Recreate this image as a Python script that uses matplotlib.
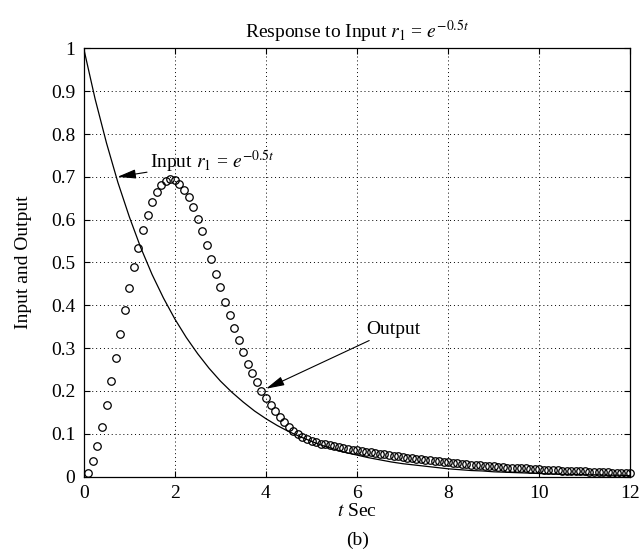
import numpy as np
import matplotlib
matplotlib.use("Agg")
import matplotlib.pyplot as plt

plt.rcParams['font.family'] = ['Liberation Serif', 'DejaVu Serif']
plt.rcParams['mathtext.fontset'] = 'stix'

# input r1 (every 0.25 s)
t_in = np.arange(0, 12.01, 0.25)
r_in = [1.000, 0.882, 0.779, 0.687, 0.607, 0.535, 0.472, 0.417, 0.368, 0.325,
        0.287, 0.253, 0.223, 0.197, 0.174, 0.153, 0.135, 0.119, 0.105, 0.093,
        0.082, 0.072, 0.064, 0.056, 0.050, 0.044, 0.039, 0.034, 0.030, 0.027,
        0.024, 0.021, 0.018, 0.016, 0.014, 0.013, 0.011, 0.010, 0.009, 0.008,
        0.007, 0.006, 0.005, 0.005, 0.004, 0.004, 0.003, 0.003, 0.002]

# output (every 0.1 s, starting at 0.1)
t_out = np.arange(1, 121) / 10
y_out = [0.008, 0.037, 0.071, 0.115, 0.167, 0.222, 0.278, 0.333, 0.388, 0.441,
         0.490, 0.535, 0.576, 0.612, 0.642, 0.665, 0.681, 0.691, 0.694, 0.692,
         0.683, 0.669, 0.652, 0.629, 0.602, 0.573, 0.541, 0.507, 0.474, 0.442,
         0.408, 0.377, 0.346, 0.318, 0.290, 0.264, 0.242, 0.220, 0.200, 0.184,
         0.168, 0.153, 0.140, 0.127, 0.116, 0.107, 0.099, 0.092, 0.087, 0.083,
         0.080, 0.077, 0.075, 0.073, 0.071, 0.069, 0.067, 0.065, 0.063, 0.062,
         0.060, 0.058, 0.057, 0.055, 0.053, 0.052, 0.050, 0.049, 0.047, 0.046,
         0.044, 0.043, 0.042, 0.040, 0.039, 0.038, 0.037, 0.036, 0.034, 0.033,
         0.032, 0.031, 0.030, 0.029, 0.028, 0.027, 0.026, 0.025, 0.024, 0.024,
         0.023, 0.022, 0.021, 0.020, 0.020, 0.019, 0.019, 0.018, 0.017, 0.017,
         0.016, 0.016, 0.015, 0.015, 0.014, 0.014, 0.013, 0.013, 0.012, 0.012,
         0.011, 0.011, 0.010, 0.010, 0.010, 0.009, 0.009, 0.009, 0.008, 0.008]

x_ticks = [0, 2, 4, 6, 8, 10, 12]
y_ticks = [0, 0.1, 0.2, 0.3, 0.4, 0.5, 0.6, 0.7, 0.8, 0.9, 1]
y_labels = ['0', '0.1', '0.2', '0.3', '0.4', '0.5', '0.6', '0.7', '0.8', '0.9', '1']

fs = 14

fig = plt.figure(figsize=(6.44, 5.57), dpi=100)
ax = fig.add_axes([0.130, 0.1445, 0.849, 0.7685])

ax.plot(t_in, r_in, color='k', lw=0.9)
ax.plot(t_out, y_out, 'o', mfc='none', mec='k', ms=5.4, mew=0.9, clip_on=False)

ax.set_xlim(0, 12)
ax.set_ylim(0, 1)
ax.set_xticks(x_ticks)
ax.set_xticklabels([str(v) for v in x_ticks])
ax.set_yticks(y_ticks)
ax.set_yticklabels(y_labels)
ax.tick_params(direction='in', top=True, right=True, labelsize=fs, length=4, width=0.8, pad=6)
ax.grid(True, color='k', ls=(0, (1, 3)), lw=0.7)
for s in ax.spines.values():
    s.set_linewidth(0.9)

ax.set_title(r'Response to Input $r_1$ = $e^{-0.5t}$', fontsize=fs, pad=7)
ax.set_ylabel('Input and Output', fontsize=fs, labelpad=14)
ax.set_xlabel(r'$t$ Sec', fontsize=fs, labelpad=1)
fig.text(0.555, 0.03, '(b)', ha='center', va='center', fontsize=fs)

arrow = dict(arrowstyle='-|>,head_length=0.8,head_width=0.2', color='k', lw=0.8, shrinkA=0, shrinkB=0)
ax.annotate(r'Input $r_1$ = $e^{-0.5t}$', xy=(0.74, 0.70), xytext=(1.45, 0.735),
            fontsize=fs, va='center', ha='left', arrowprops=arrow)
ax.annotate('Output', xy=(4.0, 0.205), xytext=(6.2, 0.344),
            fontsize=fs, va='center', ha='left', arrowprops=arrow)

fig.savefig('out.png', dpi=100)
